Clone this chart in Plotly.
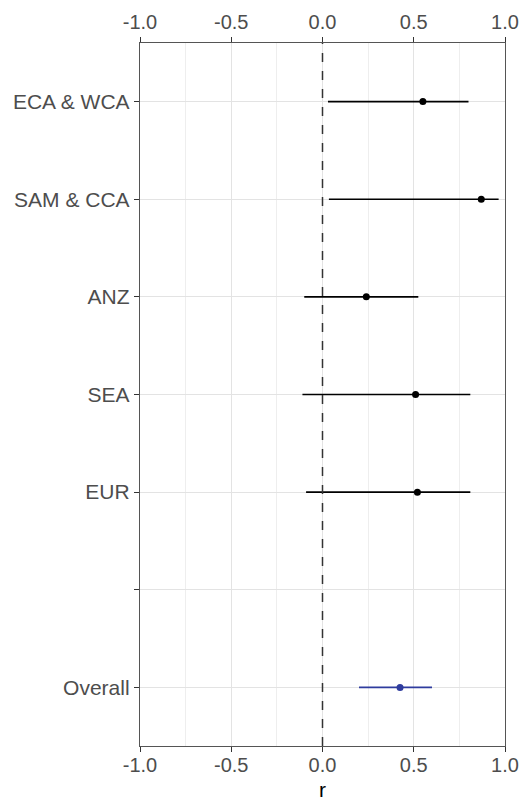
import plotly.graph_objects as go

# Regional correlation estimates with 95% confidence intervals
regions = ["ECA & WCA", "SAM & CCA", "ANZ", "SEA", "EUR"]
r_est = [0.55, 0.87, 0.24, 0.51, 0.52]
ci_low = [0.03, 0.035, -0.10, -0.11, -0.09]
ci_high = [0.80, 0.965, 0.525, 0.81, 0.81]

overall_label = "Overall"
overall_est = [0.425]
overall_low = [0.20]
overall_high = [0.60]

# Row order from top to bottom; the empty row separates regions from the pooled estimate
row_labels = regions + ["", overall_label]
x_ticks = [-1.0, -0.5, 0.0, 0.5, 1.0]
x_tick_text = ["-1.0", "-0.5", "0.0", "0.5", "1.0"]

n_rows = len(row_labels)
row_pos = {lab: n_rows - 1 - i for i, lab in enumerate(row_labels)}

W, H = 521, 803
M_L, M_R, M_T, M_B = 140, 16, 43, 57

fig = go.Figure()

fig.add_trace(go.Scatter(
    x=r_est,
    y=[row_pos[r] for r in regions],
    mode="markers",
    marker=dict(color="black", size=7),
    error_x=dict(
        type="data", symmetric=False,
        array=[h - e for h, e in zip(ci_high, r_est)],
        arrayminus=[e - l for e, l in zip(r_est, ci_low)],
        width=0, thickness=1.6, color="black",
    ),
    showlegend=False, hoverinfo="skip",
))

fig.add_trace(go.Scatter(
    x=overall_est,
    y=[row_pos[overall_label]],
    mode="markers",
    marker=dict(color="#2f3c9e", size=7),
    error_x=dict(
        type="data", symmetric=False,
        array=[h - e for h, e in zip(overall_high, overall_est)],
        arrayminus=[e - l for e, l in zip(overall_est, overall_low)],
        width=0, thickness=1.6, color="#2f3c9e",
    ),
    showlegend=False, hoverinfo="skip",
))

# invisible trace so the top axis is rendered
fig.add_trace(go.Scatter(
    x=[x_ticks[0], x_ticks[-1]], y=[0, 0], xaxis="x2",
    mode="markers", marker=dict(opacity=0), showlegend=False, hoverinfo="skip",
))

# dashed reference line at r = 0
fig.add_shape(type="line", x0=0, x1=0, y0=0, y1=1, xref="x", yref="paper",
              line=dict(color="#333333", width=1.5, dash="dash"))

font_family = "Liberation Sans, Arial, sans-serif"
tick_font = dict(family=font_family, size=20, color="#4d4d4d")
xaxis_common = dict(
    range=[-1.0, 1.0],
    tickvals=x_ticks,
    ticktext=x_tick_text,
    ticks="outside", ticklen=5, tickwidth=1.4, tickcolor="#333333",
    tickfont=tick_font,
    showgrid=True, gridcolor="#e3e3e3", gridwidth=1.2,
    minor=dict(dtick=0.25, tick0=0, showgrid=True, gridcolor="#eeeeee", gridwidth=1, ticks=""),
    zeroline=False,
    showline=True, linecolor="#555555", linewidth=1.4,
    automargin=False,
)

# axis title "r" below the bottom tick labels
plot_h = H - M_T - M_B
fig.add_annotation(
    text="r", x=0.5, xref="paper", y=-(M_B - 1) / plot_h, yref="paper",
    xanchor="center", yanchor="bottom", showarrow=False,
    font=dict(family=font_family, size=21, color="black"),
    borderpad=0,
)

fig.update_layout(
    width=W, height=H,
    margin=dict(l=M_L, r=M_R, t=M_T, b=M_B),
    paper_bgcolor="white", plot_bgcolor="white",
    xaxis=dict(**xaxis_common, side="bottom", mirror=True, ticklabelstandoff=-4),
    xaxis2=dict(**xaxis_common, side="top", overlaying="x", matches="x"),
    yaxis=dict(
        range=[-0.6, n_rows - 1 + 0.6],
        tickvals=[row_pos[l] for l in row_labels],
        ticktext=row_labels,
        ticks="outside", ticklen=5, tickwidth=1.4, tickcolor="#333333",
        tickfont=dict(family=font_family, size=21, color="#4d4d4d"),
        showgrid=True, gridcolor="#e3e3e3", gridwidth=1.2,
        zeroline=False,
        showline=True, linecolor="#555555", linewidth=1.4, mirror=True,
        automargin=False,
    ),
)

fig.write_html("out.html")
